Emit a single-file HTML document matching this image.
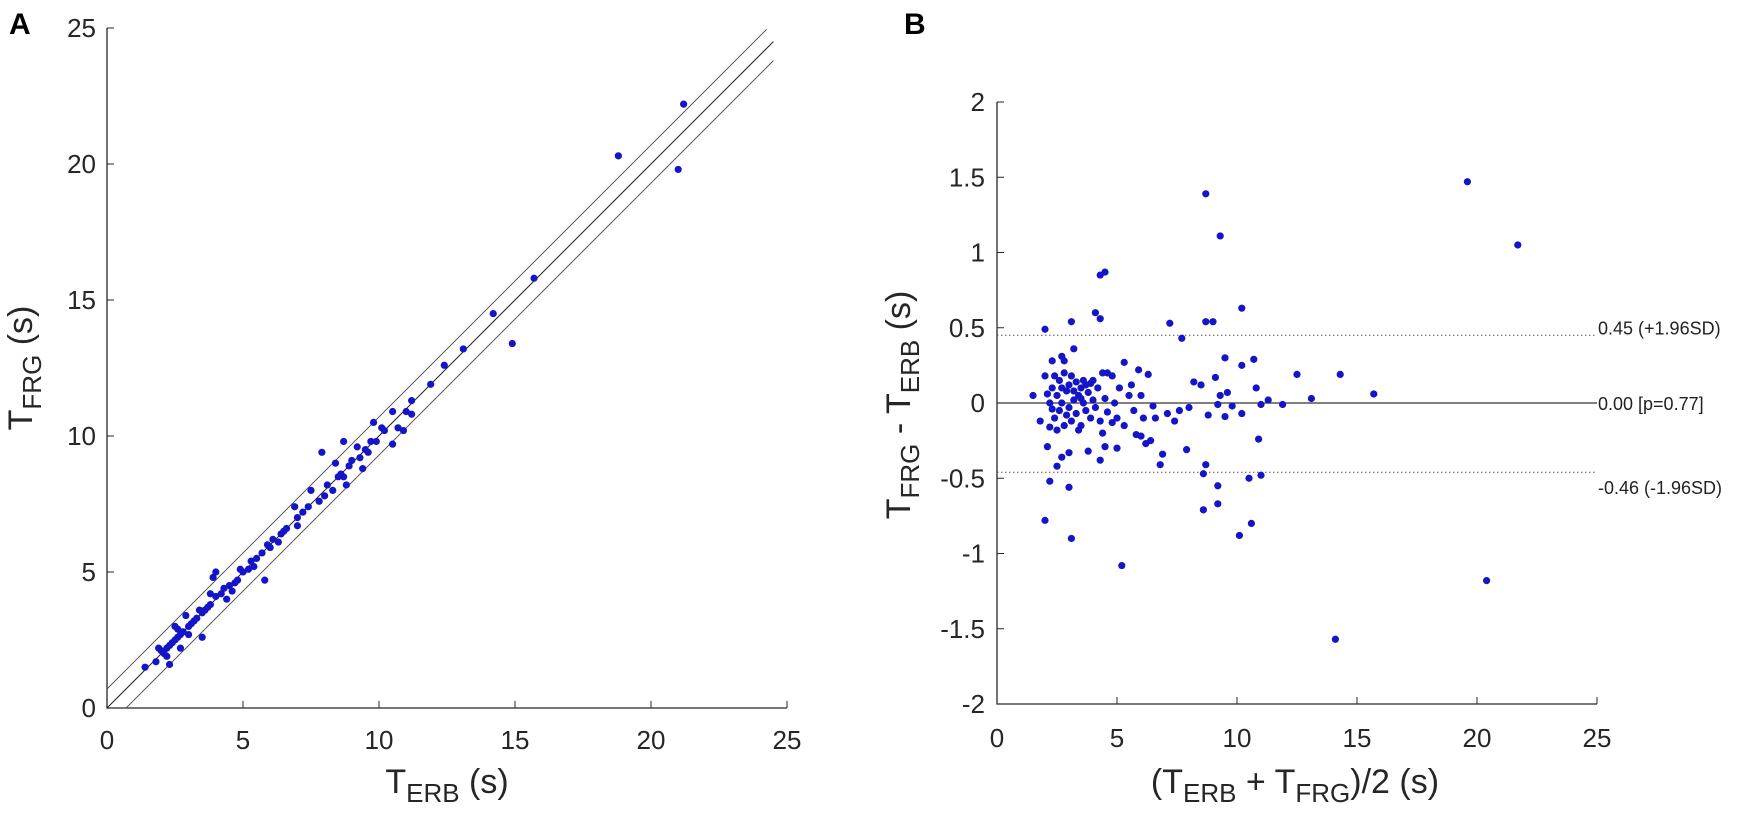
<!DOCTYPE html>
<html><head><meta charset="utf-8"><style>
body{margin:0;background:#fff;}
svg{display:block;font-family:"Liberation Sans",sans-serif;}
.tk{font-size:26px;fill:#262626;}
.lb{font-size:34px;fill:#262626;}
</style></head><body>
<svg id="chart" width="1750" height="822" viewBox="0 0 1750 822" xmlns="http://www.w3.org/2000/svg">
<g id="pa"></g>
<g id="pb"></g>
</svg>
<script>
const aTicks=[0,5,10,15,20,25];
const bXTicks=[0,5,10,15,20,25];
const bYTicks=[-2,-1.5,-1,-0.5,0,0.5,1,1.5,2];
const bYTickLabels=["-2","-1.5","-1","-0.5","0","0.5","1","1.5","2"];
const aLimitOffset=0.7;
const aERB=[21.2,18.8,21.0,15.7,14.9,14.2,13.1,12.4,11.9,11.2,11.2,11.0,10.9,10.7,10.5,10.5,10.2,9.8,10.1,9.9,9.7,9.5,9.3,9.4,9.2,9.0,8.8,8.7,8.5,8.4,8.7,8.9,7.9,8.0,8.1,7.8,7.5,7.4,7.2,7.0,6.9,7.0,6.6,6.4,6.3,6.1,5.9,5.8,5.7,5.5,5.3,5.2,5.0,4.9,4.7,4.5,4.3,4.2,4.0,3.9,4.0,3.8,3.7,3.6,3.5,3.5,3.3,3.2,3.1,3.0,2.9,2.8,2.7,2.6,2.5,2.5,2.4,2.3,2.2,2.1,2.0,1.9,2.3,1.8,1.4,2.7,3.0,4.4,4.6,4.8,5.4,6.0,6.5,8.3,8.6,9.6,3.4,2.6,2.2,3.8];
const aFRG=[22.2,20.3,19.8,15.8,13.4,14.5,13.2,12.6,11.9,11.3,10.8,10.9,10.2,10.3,9.7,10.9,10.2,10.5,10.3,9.8,9.8,9.5,9.2,8.8,9.6,9.1,8.2,9.8,8.5,9.0,8.5,8.9,9.4,7.8,8.2,7.6,8.0,7.4,7.2,7.0,7.4,6.7,6.6,6.4,6.1,6.2,6.0,4.7,5.7,5.5,5.4,5.1,5.0,5.1,4.6,4.5,4.4,4.2,5.0,4.8,4.1,3.8,3.7,3.6,3.5,2.6,3.3,3.2,3.1,3.0,3.4,2.8,2.7,2.6,2.5,3.0,2.4,2.3,2.2,2.0,2.1,2.2,1.6,1.7,1.5,2.2,2.7,4.0,4.3,4.7,5.2,5.9,6.5,8.0,8.6,9.4,3.6,2.9,1.9,4.2];
const bMean=[19.6,21.7,8.7,9.3,4.3,4.5,4.1,4.3,3.1,2.0,7.2,8.7,9.0,10.2,7.7,9.5,10.7,10.2,12.5,14.3,15.7,13.1,11.9,11.3,11.0,10.8,14.1,20.4,5.2,3.1,2.0,10.1,10.6,8.6,9.2,3.0,2.2,9.2,10.5,11.0,8.6,8.7,6.8,6.9,2.5,2.7,3.0,2.1,7.9,5.0,4.5,4.3,3.8,10.9,6.2,6.0,5.8,2.3,2.7,2.8,3.2,5.3,5.9,6.3,9.1,8.2,8.5,9.3,9.6,9.2,9.8,10.2,9.5,8.8,7.6,7.1,6.5,6.6,7.4,8.0,5.1,5.5,5.7,6.0,6.1,4.8,4.6,4.4,4.0,3.7,3.5,1.5,1.8,2.0,2.2,2.3,2.4,2.5,2.6,2.6,2.7,2.8,2.9,3.0,3.0,3.1,3.2,3.3,3.3,3.4,3.5,3.6,3.7,3.8,3.9,4.0,4.1,4.2,4.3,4.5,4.6,4.8,4.9,5.0,2.2,2.4,2.5,2.8,3.1,3.4,3.6,3.9,2.1,2.9,3.2,3.5,2.3,2.7,4.4,5.3,5.6,6.4];
const bDiff=[1.47,1.05,1.39,1.11,0.85,0.87,0.60,0.56,0.54,0.49,0.53,0.54,0.54,0.63,0.43,0.30,0.29,0.25,0.19,0.19,0.06,0.03,-0.01,0.02,-0.01,0.10,-1.57,-1.18,-1.08,-0.90,-0.78,-0.88,-0.80,-0.71,-0.67,-0.56,-0.52,-0.55,-0.50,-0.48,-0.47,-0.41,-0.41,-0.34,-0.42,-0.36,-0.33,-0.29,-0.31,-0.30,-0.29,-0.38,-0.32,-0.24,-0.27,-0.22,-0.21,0.28,0.31,0.28,0.36,0.27,0.22,0.19,0.17,0.14,0.12,0.05,0.07,-0.01,-0.02,-0.07,-0.09,-0.08,-0.05,-0.07,-0.02,-0.10,-0.12,-0.03,0.10,0.05,-0.05,0.05,-0.10,0.18,0.20,0.20,0.15,0.12,0.10,0.05,-0.12,0.18,0.0,0.1,-0.1,0.05,-0.05,0.15,0.0,-0.15,0.08,-0.03,0.12,-0.12,0.02,-0.07,0.14,0.05,-0.15,0.0,-0.05,0.07,-0.1,0.02,-0.03,0.1,-0.12,0.03,-0.06,-0.13,0.0,-0.1,-0.16,0.18,-0.18,0.2,0.18,-0.18,0.15,0.13,0.06,-0.08,0.08,0.03,-0.04,0.1,-0.2,-0.15,0.12,-0.25];
const bMeanLine=[0.00];
const bLimits=[0.45,-0.46];
const bLimitLabels=["0.45 (+1.96SD)","-0.46 (-1.96SD)"];
const bMeanLabel=["0.00 [p=0.77]"];

const NS="http://www.w3.org/2000/svg";
function mk(p,t,a){const e=document.createElementNS(NS,t);for(const k in a)e.setAttribute(k,a[k]);p.appendChild(e);return e;}
const axA={x0:107,x1:787,y0:708,y1:28};
const axB={x0:997,x1:1597,y0:704,y1:102};
const xA=v=>axA.x0+v/25*(axA.x1-axA.x0);
const yA=v=>axA.y0-v/25*(axA.y0-axA.y1);
const xB=v=>axB.x0+v/25*(axB.x1-axB.x0);
const yB=v=>axB.y0-(v+2)/4*(axB.y0-axB.y1);
const pa=document.getElementById('pa'),pb=document.getElementById('pb');

let e;
e=mk(pa,'path',{d:`M${axA.x0},${axA.y1}V${axA.y0}H${axA.x1}`,stroke:'#262626','stroke-width':1.3,fill:'none'});


aTicks.forEach((t,i)=>{
  mk(pa,'line',{x1:xA(t),x2:xA(t),y1:axA.y0,y2:axA.y0-7,stroke:'#262626'});
  mk(pa,'line',{x1:axA.x0,x2:axA.x0+7,y1:yA(t),y2:yA(t),stroke:'#262626'});
  e=mk(pa,'text',{x:xA(t),y:axA.y0+41,'text-anchor':'middle',class:'tk'});e.textContent=t;
  
  
  e=mk(pa,'text',{x:axA.x0-11,y:yA(t)+9,'text-anchor':'end',class:'tk'});e.textContent=t;
  
  
});
[0,aLimitOffset,-aLimitOffset].forEach(o=>{
  const xs=Math.max(0,-o);
  const xe=24.5-(o>0?0.25:0);
  e=mk(pa,'line',{x1:xA(xs),y1:yA(xs+o),x2:xA(xe),y2:yA(xe+o),stroke:o===0?'#222':'#555','stroke-width':1});
  
  
});
aERB.forEach((v,i)=>{
  e=mk(pa,'circle',{cx:xA(v),cy:yA(aFRG[i]),r:3.6,fill:'#1414c8'});
  
  
});
e=mk(pa,'text',{x:9,y:34,'font-size':30,'font-weight':'bold',fill:'#000'});e.textContent='A';


e=mk(pa,'text',{x:447,y:793,'text-anchor':'middle',class:'lb'});
e.innerHTML='T<tspan font-size="26" dy="9">ERB</tspan><tspan dy="-9"> (s)</tspan>';


e=mk(pa,'text',{x:0,y:0,'text-anchor':'middle',class:'lb',transform:'translate(32,368) rotate(-90)'});
e.innerHTML='T<tspan font-size="26" dy="9">FRG</tspan><tspan dy="-9"> (s)</tspan>';



e=mk(pb,'path',{d:`M${axB.x0},${axB.y1}V${axB.y0}H${axB.x1}`,stroke:'#262626','stroke-width':1.3,fill:'none'});


bXTicks.forEach(t=>{
  mk(pb,'line',{x1:xB(t),x2:xB(t),y1:axB.y0,y2:axB.y0-7,stroke:'#262626'});
  e=mk(pb,'text',{x:xB(t),y:axB.y0+43,'text-anchor':'middle',class:'tk'});e.textContent=t;
  
  
});
bYTicks.forEach((t,i)=>{
  mk(pb,'line',{x1:axB.x0,x2:axB.x0+7,y1:yB(t),y2:yB(t),stroke:'#262626'});
  e=mk(pb,'text',{x:axB.x0-12,y:yB(t)+9,'text-anchor':'end',class:'tk'});e.textContent=bYTickLabels[i];
  
  
});
e=mk(pb,'line',{x1:axB.x0,x2:axB.x1,y1:yB(bMeanLine[0]),y2:yB(bMeanLine[0]),stroke:'#333','stroke-width':1.3});


e=mk(pb,'text',{x:1598,y:yB(bMeanLine[0])+7,'font-size':18,fill:'#222'});e.textContent=bMeanLabel[0];


bLimits.forEach((v,i)=>{
  e=mk(pb,'line',{x1:axB.x0,x2:axB.x1,y1:yB(v),y2:yB(v),stroke:'#555','stroke-width':1,'stroke-dasharray':'1.5,2.5'});
  
  
  e=mk(pb,'text',{x:1598,y:yB(v)+(v>0?-1:22),'font-size':18,fill:'#222'});e.textContent=bLimitLabels[i];
  
  
});
bMean.forEach((v,i)=>{
  e=mk(pb,'circle',{cx:xB(v),cy:yB(bDiff[i]),r:3.6,fill:'#1414c8'});
  
  
});
e=mk(pb,'text',{x:904,y:34,'font-size':30,'font-weight':'bold',fill:'#000'});e.textContent='B';


e=mk(pb,'text',{x:1295,y:793,'text-anchor':'middle',class:'lb'});
e.innerHTML='(T<tspan font-size="26" dy="9">ERB</tspan><tspan dy="-9"> + T</tspan><tspan font-size="26" dy="9">FRG</tspan><tspan dy="-9">)/2 (s)</tspan>';


e=mk(pb,'text',{x:0,y:0,'text-anchor':'middle',class:'lb',transform:'translate(910,405) rotate(-90)'});
e.innerHTML='T<tspan font-size="26" dy="9">FRG</tspan><tspan dy="-9"> - T</tspan><tspan font-size="26" dy="9">ERB</tspan><tspan dy="-9"> (s)</tspan>';


</script>
</body></html>
